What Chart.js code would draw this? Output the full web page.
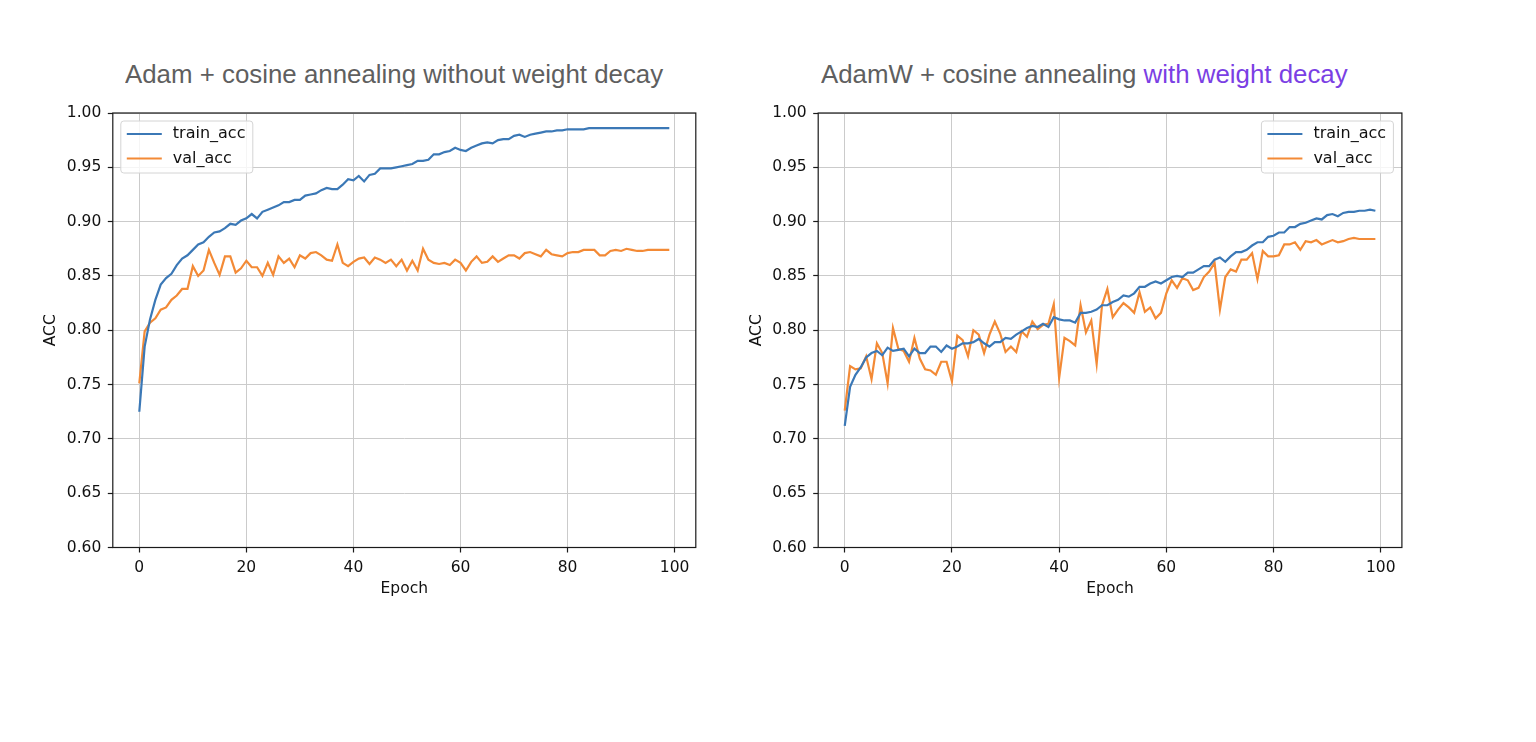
<!DOCTYPE html>
<html>
<head>
<meta charset="utf-8">
<script src="https://cdn.jsdelivr.net/npm/chart.js@4.4.1/dist/chart.umd.min.js"></script>
<style>
  html, body { margin: 0; padding: 0; background: #fff; }
  body { width: 1536px; height: 742px; position: relative; overflow: hidden; }
  .ttl {
    position: absolute; top: 62px; white-space: nowrap;
    font-family: "Liberation Sans", Arial, sans-serif; font-size: 25px; line-height: 25px;
    color: #5f5f5f; transform: scaleX(1.034); transform-origin: 0 0;
  }
  .ttl .hl { color: #7b3fe4; }
  .box { position: absolute; top: 0; height: 620px; }
  #boxL { left: 0; width: 760px; }
  #boxR { left: 740px; width: 720px; }
</style>
</head>
<body>
<div class="ttl" style="left:125px">Adam + cosine annealing without weight decay</div>
<div class="ttl" style="left:821px">AdamW + cosine annealing <span class="hl">with weight decay</span></div>
<div class="box" id="boxL"><canvas id="accL"></canvas></div>
<div class="box" id="boxR"><canvas id="accR"></canvas></div>
<script>
// epochs 0..99
const epochs = [
  0, 1, 2, 3, 4, 5, 6, 7, 8, 9, 10, 11, 12, 13, 14, 15, 16, 17, 18, 19,
  20, 21, 22, 23, 24, 25, 26, 27, 28, 29, 30, 31, 32, 33, 34, 35, 36, 37, 38, 39,
  40, 41, 42, 43, 44, 45, 46, 47, 48, 49, 50, 51, 52, 53, 54, 55, 56, 57, 58, 59,
  60, 61, 62, 63, 64, 65, 66, 67, 68, 69, 70, 71, 72, 73, 74, 75, 76, 77, 78, 79,
  80, 81, 82, 83, 84, 85, 86, 87, 88, 89, 90, 91, 92, 93, 94, 95, 96, 97, 98, 99
];
const xTicks = [0, 20, 40, 60, 80, 100];
const yTicks = [0.60, 0.65, 0.70, 0.75, 0.80, 0.85, 0.90, 0.95, 1.00];

// Adam, kein weight decay
const adamTrain = [
  0.725, 0.785, 0.810, 0.828, 0.842, 0.848, 0.852, 0.860, 0.866, 0.869,
  0.874, 0.879, 0.881, 0.886, 0.890, 0.891, 0.894, 0.898, 0.897, 0.901,
  0.903, 0.907, 0.903, 0.909, 0.911, 0.913, 0.915, 0.918, 0.918, 0.920,
  0.920, 0.924, 0.925, 0.926, 0.929, 0.931, 0.930, 0.930, 0.934, 0.939,
  0.938, 0.942, 0.937, 0.943, 0.944, 0.949, 0.949, 0.949, 0.950, 0.951,
  0.952, 0.953, 0.956, 0.956, 0.957, 0.962, 0.962, 0.964, 0.965, 0.968,
  0.966, 0.965, 0.968, 0.970, 0.972, 0.973, 0.972, 0.975, 0.976, 0.976,
  0.979, 0.980, 0.978, 0.980, 0.981, 0.982, 0.983, 0.983, 0.984, 0.984,
  0.985, 0.985, 0.985, 0.985, 0.986, 0.986, 0.986, 0.986, 0.986, 0.986,
  0.986, 0.986, 0.986, 0.986, 0.986, 0.986, 0.986, 0.986, 0.986, 0.986
];
const adamVal = [
  0.751, 0.799, 0.807, 0.811, 0.819, 0.821, 0.828, 0.832, 0.838, 0.838,
  0.859, 0.850, 0.855, 0.874, 0.862, 0.851, 0.868, 0.868, 0.853, 0.857,
  0.864, 0.858, 0.858, 0.850, 0.862, 0.851, 0.868, 0.862, 0.866, 0.858,
  0.869, 0.866, 0.871, 0.872, 0.869, 0.865, 0.864, 0.879, 0.862, 0.859,
  0.863, 0.866, 0.867, 0.861, 0.867, 0.865, 0.862, 0.865, 0.859, 0.865,
  0.855, 0.864, 0.855, 0.875, 0.865, 0.862, 0.861, 0.862, 0.860, 0.865,
  0.862, 0.855, 0.863, 0.868, 0.862, 0.863, 0.868, 0.863, 0.866, 0.869,
  0.869, 0.866, 0.871, 0.872, 0.870, 0.868, 0.874, 0.870, 0.869, 0.868,
  0.871, 0.872, 0.872, 0.874, 0.874, 0.874, 0.869, 0.869, 0.873, 0.874,
  0.873, 0.875, 0.874, 0.873, 0.873, 0.874, 0.874, 0.874, 0.874, 0.874
];

// AdamW, mit weight decay
const adamwTrain = [
  0.712, 0.748, 0.759, 0.766, 0.775, 0.779, 0.781, 0.777, 0.784, 0.781,
  0.782, 0.783, 0.776, 0.783, 0.779, 0.779, 0.785, 0.785, 0.780, 0.786,
  0.783, 0.785, 0.788, 0.788, 0.789, 0.792, 0.788, 0.785, 0.789, 0.789,
  0.793, 0.792, 0.796, 0.799, 0.802, 0.804, 0.803, 0.806, 0.803, 0.812,
  0.810, 0.809, 0.809, 0.807, 0.816, 0.816, 0.817, 0.819, 0.823, 0.823,
  0.826, 0.828, 0.832, 0.831, 0.834, 0.840, 0.840, 0.843, 0.845, 0.843,
  0.846, 0.849, 0.850, 0.849, 0.853, 0.853, 0.856, 0.859, 0.859, 0.865,
  0.867, 0.863, 0.868, 0.872, 0.872, 0.874, 0.878, 0.881, 0.881, 0.886,
  0.887, 0.890, 0.890, 0.895, 0.895, 0.898, 0.899, 0.901, 0.903, 0.902,
  0.906, 0.907, 0.905, 0.908, 0.909, 0.909, 0.910, 0.910, 0.911, 0.910
];
const adamwVal = [
  0.726, 0.767, 0.764, 0.765, 0.776, 0.755, 0.788, 0.779, 0.751, 0.802,
  0.783, 0.781, 0.771, 0.793, 0.774, 0.764, 0.763, 0.759, 0.771, 0.771,
  0.753, 0.795, 0.791, 0.776, 0.800, 0.796, 0.779, 0.796, 0.808, 0.797,
  0.780, 0.785, 0.780, 0.799, 0.794, 0.808, 0.801, 0.805, 0.806, 0.824,
  0.756, 0.793, 0.790, 0.786, 0.823, 0.798, 0.809, 0.769, 0.823, 0.838,
  0.812, 0.819, 0.825, 0.821, 0.816, 0.835, 0.817, 0.821, 0.811, 0.816,
  0.834, 0.846, 0.839, 0.848, 0.846, 0.837, 0.839, 0.849, 0.854, 0.862,
  0.819, 0.849, 0.856, 0.854, 0.865, 0.865, 0.871, 0.847, 0.873, 0.868,
  0.868, 0.869, 0.879, 0.879, 0.881, 0.874, 0.882, 0.881, 0.883, 0.879,
  0.881, 0.883, 0.881, 0.882, 0.884, 0.885, 0.884, 0.884, 0.884, 0.884
];

const BLUE = '#3b78b6';
const ORANGE = '#f38a36';
const FONT = '"DejaVu Sans", Verdana, sans-serif';

// Rahmen um den Plotbereich (alle 4 Seiten, wie matplotlib)
const frame = {
  id: 'frame',
  afterDatasetsDraw(chart) {
    const a = chart.chartArea, c = chart.ctx;
    c.save();
    c.strokeStyle = '#1a1a1a';
    c.lineWidth = 1.2;
    c.strokeRect(a.left, a.top, a.right - a.left, a.bottom - a.top);
    c.restore();
  }
};

// Legende im Plot, mit Kasten
const boxLegend = {
  id: 'boxLegend',
  afterDraw(chart, args, opts) {
    const a = chart.chartArea, c = chart.ctx;
    const w = 132, h = 52;
    const x = opts.corner === 'right' ? a.right - 8.5 - w : a.left + 8;
    const y = a.top + 8;
    c.save();
    c.beginPath();
    c.roundRect(x, y, w, h, 3);
    c.fillStyle = 'rgba(255,255,255,0.8)';
    c.fill();
    c.strokeStyle = '#d4d4d4';
    c.lineWidth = 1;
    c.stroke();
    c.font = '16px ' + FONT;
    c.textBaseline = 'middle';
    chart.data.datasets.forEach((ds, i) => {
      const ly = y + 13 + i * 24.5;
      c.beginPath();
      c.moveTo(x + 6, ly);
      c.lineTo(x + 41, ly);
      c.strokeStyle = ds.borderColor;
      c.lineWidth = 2.2;
      c.stroke();
      c.fillStyle = '#111';
      c.fillText(ds.label, x + 52, ly);
    });
    c.restore();
  }
};

function makeChart(id, train, val, o) {
  const pts = arr => epochs.map((e, i) => ({ x: e, y: arr[i] }));
  return new Chart(document.getElementById(id), {
    type: 'line',
    data: {
      datasets: [
        { label: 'train_acc', data: pts(train), borderColor: BLUE, borderWidth: 2.2, pointRadius: 0, tension: 0 },
        { label: 'val_acc', data: pts(val), borderColor: ORANGE, borderWidth: 2.2, pointRadius: 0, tension: 0 },
      ],
    },
    options: {
      responsive: true,
      maintainAspectRatio: false,
      animation: false,
      layout: { padding: { top: 113, left: 0, right: o.padRight, bottom: 0 } },
      plugins: {
        legend: { display: false },
        tooltip: { enabled: false },
        boxLegend: { corner: o.corner },
      },
      scales: {
        x: {
          type: 'linear',
          min: -4.95,
          max: 103.95,
          afterBuildTicks: s => { s.ticks = xTicks.map(v => ({ value: v })); },
          afterFit: s => { s.height = 72.5; },
          ticks: { color: '#111', font: { family: FONT, size: 15.5 }, padding: 6, maxRotation: 0, callback: v => String(v) },
          grid: { color: '#cbcbcb', lineWidth: 1, drawTicks: true, tickLength: 5, tickColor: '#1a1a1a', tickWidth: 1.2 },
          border: { display: false },
          title: { display: true, text: 'Epoch', color: '#111', font: { family: FONT, size: 15.5 }, padding: { top: 0, bottom: 22 } },
        },
        y: {
          min: 0.6,
          max: 1.0,
          afterBuildTicks: s => { s.ticks = yTicks.map(v => ({ value: v })); },
          afterFit: s => { s.width = o.axisW; },
          ticks: { color: '#111', font: { family: FONT, size: 15.5 }, padding: 6.5, callback: v => v.toFixed(2) },
          grid: { color: '#cbcbcb', lineWidth: 1, drawTicks: true, tickLength: 5, tickColor: '#1a1a1a', tickWidth: 1.2 },
          border: { display: false },
          title: { display: true, text: 'ACC', color: '#111', font: { family: FONT, size: 15.5 }, padding: { top: o.accPad, bottom: 0 } },
        },
      },
    },
    plugins: [frame, boxLegend],
  });
}

makeChart('accL', adamTrain, adamVal, { axisW: 112.8, padRight: 64.2, accPad: 42, corner: 'left' });
makeChart('accR', adamwTrain, adamwVal, { axisW: 78.2, padRight: 58.1, accPad: 7.5, corner: 'right' });
</script>
</body>
</html>
